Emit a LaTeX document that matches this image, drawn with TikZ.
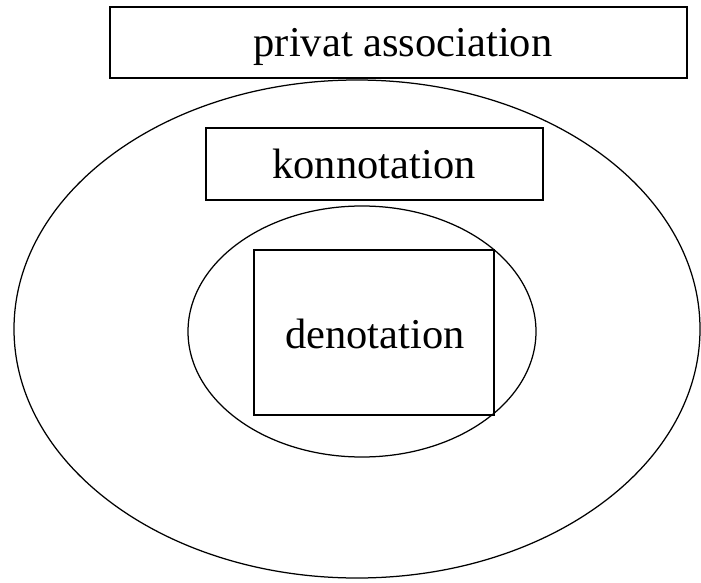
\documentclass[tikz,border=0pt]{standalone}
\usepackage{fontspec}
\setmainfont{Liberation Serif}
\begin{document}
\begin{tikzpicture}[x=1pt,y=-1pt,
  frame/.style={draw=black,line width=1.25pt},
  lbl/.style={font=\fontsize{42.5}{50}\selectfont,inner sep=0pt}]
\useasboundingbox (0,0) rectangle (701,583);
\draw[frame] (357,329) ellipse [x radius=343, y radius=249];
\draw[frame] (362,331.5) ellipse [x radius=174, y radius=125.5];
\draw[frame] (110,7) rectangle (687,78);
\draw[frame] (206,128) rectangle (543,200);
\draw[frame] (254,250) rectangle (494,415);
\node[lbl,anchor=base] (priv) at (403,57) {privat association};
\node[lbl,anchor=base] (konn) at (374,178) {konnotation};
\node[lbl,anchor=base] (deno) at (375,348) {denotation};
\end{tikzpicture}
\end{document}
